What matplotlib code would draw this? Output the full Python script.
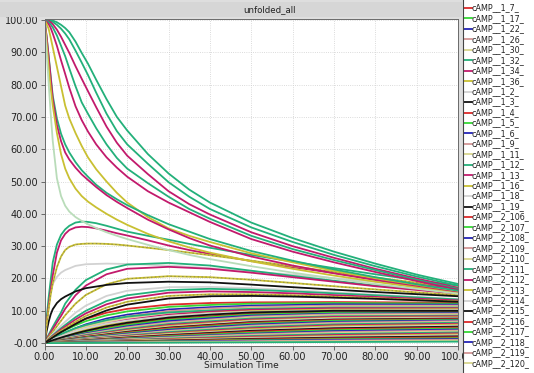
import matplotlib
matplotlib.use('Agg')
import matplotlib.pyplot as plt
from matplotlib.ticker import FuncFormatter, MultipleLocator

# palette used by the series, in legend order
palette = ['#dd2a2a', '#35d835', '#2424b8', '#d39595', '#d8d68e',
           '#23b07a', '#c21a6c', '#c9c032', '#d2d2d2', '#111111']
red, green, blue, rosy, khaki, seagreen, crimson, yellow, lgray, black = palette
pale = '#b9dcb9'

legend_labels = ['cAMP__1_7_', 'cAMP__1_17_', 'cAMP__1_22_', 'cAMP__1_26_', 'cAMP__1_30_',
                 'cAMP__1_32_', 'cAMP__1_34_', 'cAMP__1_36_', 'cAMP__1_2_', 'cAMP__1_3_',
                 'cAMP__1_4_', 'cAMP__1_5_', 'cAMP__1_6_', 'cAMP__1_9_', 'cAMP__1_11_',
                 'cAMP__1_12_', 'cAMP__1_13_', 'cAMP__1_16_', 'cAMP__1_18_', 'cAMP__1_19_',
                 'cAMP__2_106_', 'cAMP__2_107_', 'cAMP__2_108_', 'cAMP__2_109_', 'cAMP__2_110_',
                 'cAMP__2_111_', 'cAMP__2_112_', 'cAMP__2_113_', 'cAMP__2_114_', 'cAMP__2_115_',
                 'cAMP__2_116_', 'cAMP__2_117_', 'cAMP__2_118_', 'cAMP__2_119_', 'cAMP__2_120_']

# series that start at 100 and decay, and series that peak early
time_fine = [0, 0.5, 1, 1.5, 2, 3, 4, 5, 6, 7.5, 9, 10.5, 12.5, 15, 17.5, 20, 25, 30, 35, 40,
             50, 60, 70, 80, 90, 100]
decay_series = [
    [100, 100, 100, 99.9, 99.8, 99.3, 98.5, 97.5, 96.2, 93.3, 89.8, 86.5, 81.5, 75.5, 70, 65.8,
     58.5, 52.5, 47.5, 43.5, 37.3, 32.5, 28.3, 24.6, 21.2, 18.3],
    [100, 100, 99.9, 99.7, 99.4, 98.5, 97.3, 95.8, 94, 90.5, 86.8, 83, 77.5, 71, 65.6, 61.5,
     55.5, 49.8, 45.3, 41.5, 35.8, 31.3, 27.3, 23.8, 20.6, 17.8],
    [100, 99.9, 99.7, 99.3, 98.7, 97, 94.8, 92.3, 89.8, 85.7, 81.8, 78, 73, 67, 62, 58,
     52.3, 47, 43, 39.8, 34.3, 30, 26.4, 23, 20, 17.1],
    [100, 99.8, 99.3, 98.6, 97.7, 95.2, 92, 88.8, 85, 79.5, 74.5, 71, 66.5, 61.5, 57.3, 54,
     49.5, 45.3, 41.5, 38.5, 33.2, 29.1, 25.7, 22.6, 19.6, 16.8],
    [100, 99.4, 98.7, 97.5, 95.8, 92, 87.5, 83.3, 79, 73.3, 69, 65.5, 61.5, 57.5, 54.3, 51.5,
     47, 43.5, 40.5, 37.5, 32.2, 28.3, 25, 22, 19.2, 16.5],
    [100, 98.8, 97.3, 94.5, 91.5, 85.5, 79.5, 73.5, 69.5, 65, 61, 57.5, 53.8, 50, 46.5, 43.5,
     39, 35.5, 33.2, 31.3, 27.8, 25, 22.4, 20, 17.8, 15.7],
    [100, 95, 89, 82.5, 76.5, 69.5, 64.8, 61.5, 59, 56, 53.5, 51.5, 49, 46.5, 44.5, 42.7,
     39.6, 36.8, 34.5, 32.2, 28.5, 25.5, 22.8, 20.4, 18.2, 16.2],
    [100, 95, 88.5, 82, 75.5, 67.5, 62.5, 59, 56.8, 54.3, 52.2, 50.5, 48.3, 45.8, 43.7, 41.8,
     38.2, 35.2, 32.5, 30.2, 26.8, 24, 21.6, 19.5, 17.5, 15.6],
    [100, 93, 85.5, 79, 73.5, 65, 58.5, 54, 51, 47.8, 45.5, 43.8, 42, 40, 38.2, 36.6,
     33.8, 31.5, 29.6, 28, 25.3, 23, 20.9, 19, 17.2, 15.4],
    [100, 90, 80.5, 71, 62.5, 51, 45.5, 42.5, 40.7, 39, 37.8, 36.8, 35.6, 34.3, 33.2, 32.2,
     30.4, 28.8, 27.3, 26, 23.8, 21.8, 20, 18.3, 16.8, 15.3],
]
decay_colors = [seagreen, seagreen, crimson, seagreen, crimson, yellow, seagreen, crimson, yellow, pale]

peak_series = [
    [0, 7.5, 14, 19.5, 25, 30.5, 33.5, 35.2, 36.3, 37.3, 37.6, 37.5, 37.1, 36.3, 35.4, 34.5,
     33.2, 32, 30.7, 29.5, 27.3, 25.2, 23.2, 21.3, 19.5, 17.8],
    [0, 6, 11.5, 16.5, 21, 28, 31.8, 33.8, 35, 35.8, 36, 35.9, 35.5, 34.8, 34, 33.3,
     31.8, 30.2, 28.8, 27.6, 25.4, 23.5, 21.7, 20, 18.4, 16.9],
    [0, 5.5, 10.5, 15, 18.5, 23.5, 26.8, 28.8, 29.8, 30.5, 30.7, 30.8, 30.8, 30.7, 30.5, 30.2,
     29.5, 28.8, 28, 27.2, 25.5, 23.8, 22, 20.3, 18.7, 17.2],
]
peak_colors = [seagreen, crimson, yellow]

# mid level series
time_mid = [0, 0.5, 1, 1.5, 2, 3, 4, 5, 7.5, 10, 15, 20, 30, 40, 50, 60, 80, 100]
mid_series = [
    [0, 7, 12.5, 16, 18.3, 20.5, 21.8, 22.6, 23.9, 24.4, 24.6, 24.5, 24, 23.2, 22.2, 21.2, 19, 16.8],
    [0, 1.3, 2.6, 3.8, 5, 7.3, 9.5, 12.2, 16.5, 19.5, 22.8, 24.3, 24.8, 24, 22.4, 20.8, 17.8, 15.5],
    [0, 1.1, 2.2, 3.3, 4.3, 6.4, 8.4, 10.6, 14.8, 17.8, 21.3, 23, 23.6, 23, 21.8, 20.4, 17.6, 15.3],
    [0, 0.9, 1.8, 2.7, 3.5, 5.2, 6.9, 8.6, 12.2, 14.9, 18.2, 19.9, 20.7, 20.4, 19.6, 18.6, 16.6, 14.8],
    [0, 3.6, 6.6, 8.9, 10.5, 12.4, 13.6, 14.4, 16, 17, 18, 18.6, 19, 18.8, 18.1, 17.3, 15.8, 14.5],
    [0, 0.7, 1.4, 2.1, 2.8, 4.1, 5.4, 6.6, 9.4, 11.6, 14.6, 16.2, 17.3, 17.4, 17, 16.4, 15, 13.6],
    [0, 0.6, 1.2, 1.8, 2.4, 3.5, 4.6, 5.6, 8, 10, 13, 14.8, 16.4, 16.8, 16.5, 16, 14.8, 13.5],
    [0, 0.55, 1.1, 1.65, 2.2, 3.2, 4.2, 5.1, 7.3, 9.2, 12, 13.8, 15.6, 16, 15.8, 15.4, 14.3, 13.2],
    [0, 0.5, 1, 1.5, 1.95, 2.9, 3.8, 4.6, 6.6, 8.4, 11, 12.8, 14.6, 15.1, 15.1, 14.8, 13.9, 12.9],
    [0, 0.45, 0.9, 1.3, 1.75, 2.6, 3.4, 4.1, 5.9, 7.6, 10.1, 11.9, 13.8, 14.5, 14.6, 14.4, 13.7, 12.8],
]
mid_colors = [lgray, seagreen, crimson, yellow, black, lgray, seagreen, crimson, yellow, black]

# low level series, faster ones
time_low_a = [0, 2.5, 5, 7.5, 10, 15, 20, 30, 40, 50, 70, 100]
low_series_a = [
    [0, 2.6, 4.5, 6.1, 7.5, 9.4, 10.6, 11.9, 12.4, 12.6, 12.7, 12.5],
    [0, 2.3, 4.0, 5.5, 6.8, 8.6, 9.8, 11.2, 11.8, 12.2, 12.4, 12.2],
    [0, 1.8, 3.2, 4.6, 5.8, 7.6, 8.8, 10.4, 11.1, 11.6, 12, 11.9],
    [0, 1.6, 3.0, 4.3, 5.4, 7.1, 8.3, 9.9, 10.7, 11.2, 11.6, 11.6],
    [0, 1.5, 2.8, 4.0, 5.0, 6.6, 7.8, 9.4, 10.2, 10.8, 11.3, 11.3],
    [0, 1.9, 3.3, 4.6, 5.6, 7.1, 8.2, 9.5, 10.1, 10.6, 11, 11],
    [0, 1.3, 2.5, 3.6, 4.5, 6.0, 7.2, 8.8, 9.7, 10.3, 10.8, 10.8],
    [0, 1.2, 2.3, 3.3, 4.2, 5.6, 6.8, 8.4, 9.3, 9.9, 10.4, 10.5],
    [0, 1.4, 2.6, 3.7, 4.6, 6.0, 7.0, 8.4, 9.2, 9.7, 10.1, 10.2],
    [0, 1.1, 2.1, 3.0, 3.8, 5.2, 6.3, 7.9, 8.8, 9.5, 10, 10],
]

# low level series, slow ones
time_low_b = [0, 5, 10, 20, 30, 50, 70, 100]
low_series_b = [
    [0, 1.9, 3.5, 5.9, 7.5, 9.1, 9.7, 9.8],
    [0, 1.8, 3.3, 5.6, 7.2, 8.8, 9.4, 9.5],
    [0, 1.6, 3, 5.2, 6.8, 8.5, 9.1, 9.3],
    [0, 1.5, 2.8, 4.9, 6.4, 8.2, 8.9, 9.1],
    [0, 1.4, 2.6, 4.6, 6.1, 7.9, 8.6, 8.8],
    [0, 1.3, 2.5, 4.4, 5.9, 7.6, 8.3, 8.5],
    [0, 1.2, 2.3, 4.1, 5.6, 7.3, 8.1, 8.3],
    [0, 1.1, 2.1, 3.9, 5.3, 7, 7.8, 8],
    [0, 1.05, 2, 3.7, 5, 6.8, 7.6, 7.8],
    [0, 1, 1.9, 3.5, 4.8, 6.5, 7.3, 7.6],
    [0, 0.9, 1.8, 3.3, 4.6, 6.3, 7.1, 7.4],
    [0, 0.85, 1.7, 3.1, 4.3, 6, 6.9, 7.2],
    [0, 0.8, 1.55, 2.9, 4.1, 5.7, 6.6, 7],
    [0, 0.75, 1.45, 2.7, 3.8, 5.4, 6.3, 6.8],
    [0, 0.7, 1.35, 2.5, 3.6, 5.1, 6, 6.5],
    [0, 0.65, 1.25, 2.35, 3.4, 4.9, 5.8, 6.3],
    [0, 0.6, 1.15, 2.2, 3.1, 4.6, 5.5, 6],
    [0, 0.55, 1.05, 2, 2.9, 4.3, 5.2, 5.7],
    [0, 0.5, 1, 1.9, 2.7, 4, 4.9, 5.4],
    [0, 0.45, 0.9, 1.75, 2.5, 3.8, 4.6, 5.1],
    [0, 0.42, 0.82, 1.6, 2.3, 3.5, 4.3, 4.8],
    [0, 0.38, 0.75, 1.45, 2.1, 3.2, 4, 4.5],
    [0, 0.35, 0.68, 1.3, 1.9, 2.9, 3.7, 4.2],
    [0, 0.32, 0.62, 1.2, 1.75, 2.7, 3.4, 3.9],
    [0, 0.28, 0.55, 1.05, 1.55, 2.4, 3.1, 3.6],
    [0, 0.25, 0.5, 0.95, 1.4, 2.2, 2.8, 3.3],
    [0, 0.22, 0.44, 0.85, 1.25, 1.95, 2.5, 3],
    [0, 0.2, 0.38, 0.75, 1.1, 1.7, 2.2, 2.7],
    [0, 0.17, 0.33, 0.65, 0.95, 1.5, 1.95, 2.4],
    [0, 0.15, 0.29, 0.56, 0.82, 1.3, 1.7, 2.1],
    [0, 0.12, 0.24, 0.47, 0.7, 1.1, 1.45, 1.8],
    [0, 0.1, 0.2, 0.4, 0.58, 0.92, 1.2, 1.5],
    [0, 0.08, 0.16, 0.32, 0.47, 0.75, 1, 1.25],
    [0, 0.06, 0.12, 0.25, 0.37, 0.6, 0.8, 1],
    [0, 0.04, 0.08, 0.16, 0.24, 0.4, 0.55, 0.7],
    [0, 0.02, 0.05, 0.1, 0.14, 0.24, 0.33, 0.45],
]

fig = plt.figure(figsize=(5.34, 3.73), dpi=100, facecolor='#dedede')

# title strip
fig.patches.append(plt.Rectangle((0, 1 - 17/373), 463/534, 15/373, transform=fig.transFigure,
                                 facecolor='#d6d6d6', edgecolor='none', zorder=0))
fig.text(270/534, 1 - 9.5/373, 'unfolded_all', ha='center', va='center', fontsize=6.2, color='#222222')

ax = fig.add_axes([44.5/534, 27/373, 413.5/534, 327/373])
ax.set_facecolor('white')

def draw(t, y, c, dashed=False):
    ax.plot(t, y, color=c, lw=1.3, solid_joinstyle='round')
    if dashed:
        ax.plot(t, y, color='#8c8a50', lw=0.7, dashes=(1.5, 2.5))

for i, s in enumerate(low_series_b):
    draw(time_low_b, s, palette[i % 10])
for i, s in enumerate(low_series_a):
    draw(time_low_a, s, palette[i % 10])
for s, c in zip(mid_series, mid_colors):
    draw(time_mid, s, c, c == yellow)
for s, c in zip(peak_series, peak_colors):
    draw(time_fine, s, c, c == yellow)
for s, c in zip(decay_series, decay_colors):
    draw(time_fine, s, c)

ax.set_xlim(0, 100)
ax.set_ylim(-0.9, 100.3)
ax.xaxis.set_major_locator(MultipleLocator(10))
ax.yaxis.set_major_locator(MultipleLocator(10))
ax.xaxis.set_major_formatter(FuncFormatter(lambda v, p: '%.2f' % v))
ax.yaxis.set_major_formatter(FuncFormatter(lambda v, p: '-0.00' if abs(v) < 1e-9 else '%.2f' % v))
ax.tick_params(labelsize=7, length=3, width=0.6, color='#555555', labelcolor='#222222', pad=1.5)
ax.grid(True, color='#cfcfcf', ls=':', lw=0.6)
ax.set_axisbelow(True)
for sp in ax.spines.values():
    sp.set_color('#6a6a6a')
    sp.set_linewidth(0.7)
ax.set_xlabel('Simulation Time', fontsize=6.6, color='#222222', labelpad=1)
ax.xaxis.set_label_coords(0.475, -0.047)

# legend panel on the right
pax = fig.add_axes([463/534, 0, 71/534, 1])
pax.set_xlim(0, 71)
pax.set_ylim(373, 0)
pax.set_facecolor('white')
pax.set_xticks([])
pax.set_yticks([])
for k in ['top', 'right', 'bottom']:
    pax.spines[k].set_visible(False)
pax.spines['left'].set_color('#444444')
pax.spines['left'].set_linewidth(0.8)
for i, lab in enumerate(legend_labels):
    y = 8 + 10.45 * i
    pax.plot([0.5, 8.5], [y, y], color=palette[i % 10], lw=1.3)
    pax.text(8.5, y, lab, fontsize=5.8, va='center', ha='left', color='#222222')

fig.savefig('out.png', dpi=100, facecolor=fig.get_facecolor())
